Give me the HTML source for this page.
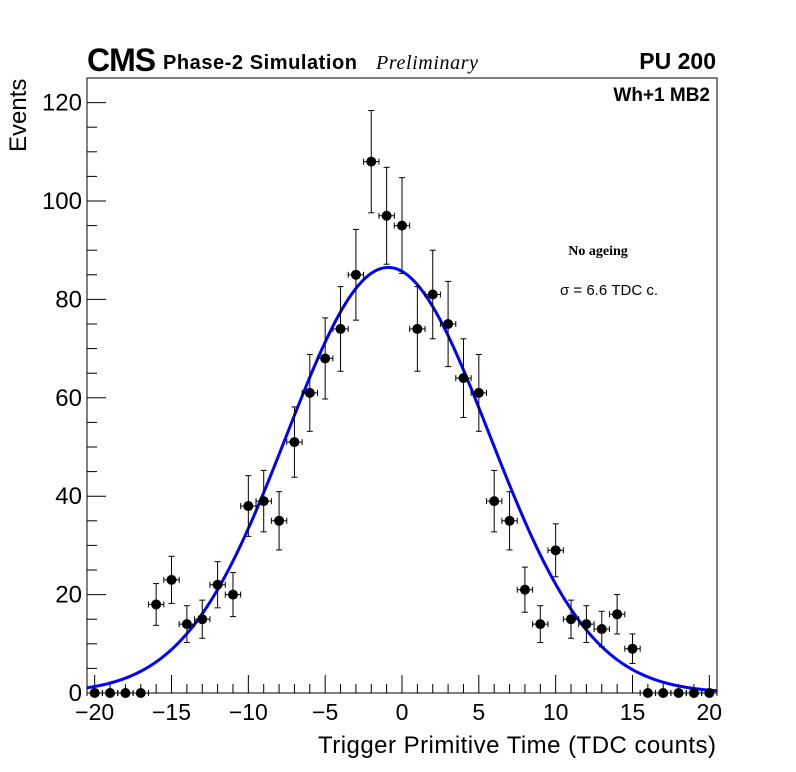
<!DOCTYPE html>
<html><head><meta charset="utf-8"><style>
html,body{margin:0;padding:0;background:#fff;}
svg{display:block;font-family:"Liberation Sans",sans-serif;}
</style></head><body>
<svg id="chart" width="796" height="772" xmlns="http://www.w3.org/2000/svg">
<rect x="0" y="0" width="796" height="772" fill="#fff"/>
<g id="axes"></g>
<g id="fit"></g>
<g id="points"></g>
<rect x="87" y="78" width="630" height="615" fill="none" stroke="#000" stroke-width="1"/>
<text x="87" y="71" font-size="32" font-weight="bold" style="letter-spacing:-1px">CMS</text>
<text x="163" y="69" font-size="20" font-weight="bold" textLength="194">Phase-2 Simulation</text>
<text x="376" y="69" font-size="20" font-style="italic" font-family="Liberation Serif,serif" textLength="102">Preliminary</text>
<text x="716" y="69" font-size="23" font-weight="bold" text-anchor="end">PU 200</text>
<text x="710" y="101" font-size="19" font-weight="bold" text-anchor="end">Wh+1 MB2</text>
<text x="598" y="255" font-size="14" font-weight="bold" font-family="Liberation Serif,serif" text-anchor="middle">No ageing</text>
<text x="609" y="295" font-size="15" text-anchor="middle">σ = 6.6 TDC c.</text>
<text x="716" y="753" font-size="24" text-anchor="end" textLength="398">Trigger Primitive Time (TDC counts)</text>
<text transform="translate(26,152) rotate(-90)" font-size="24">Events</text>
</svg>
<script>
const bins = [-20,-19,-18,-17,-16,-15,-14,-13,-12,-11,-10,-9,-8,-7,-6,-5,-4,-3,-2,-1,0,1,2,3,4,5,6,7,8,9,10,11,12,13,14,15,16,17,18,19,20];
const counts = [0,0,0,0,18,23,14,15,22,20,38,39,35,51,61,68,74,85,108,97,95,74,81,75,64,61,39,35,21,14,29,15,14,13,16,9,0,0,0,0,0];
const fitParams = [86.5, -0.9, 6.6]; // amplitude, mean, sigma
const xTicks = [-20,-15,-10,-5,0,5,10,15,20];
const xTickLabels = ["\u221220","\u221215","\u221210","\u22125","0","5","10","15","20"];
const yTicks = [0,20,40,60,80,100,120];
const yTickLabels = ["0","20","40","60","80","100","120"];

const NS="http://www.w3.org/2000/svg";
const L=87,R=717,T=78,B=693, XMIN=-20.5, XMAX=20.5, YMIN=0, YMAX=125;
const sx=v=>L+(v-XMIN)/(XMAX-XMIN)*(R-L);
const sy=v=>B-(v-YMIN)/(YMAX-YMIN)*(B-T);
function mk(tag,attrs,parent){const e=document.createElementNS(NS,tag);for(const k in attrs)e.setAttribute(k,attrs[k]);parent.appendChild(e);return e;}
const axes=document.getElementById('axes');
for(let v=-20;v<=20;v++){
  const major=v%5===0;
  const t=mk('line',{x1:sx(v),x2:sx(v),y1:B,y2:B-(major?18:9),stroke:'#000','stroke-width':1},axes);
  
  
}
xTicks.forEach((v,i)=>{
  const t=mk('text',{x:sx(v),y:B+27,'font-size':23,'text-anchor':'middle'},axes);
  t.textContent=xTickLabels[i];
  
  
});
for(let v=0;v<=125;v+=5){
  const major=v%20===0;
  const t=mk('line',{x1:L,x2:L+(major?19:10),y1:sy(v),y2:sy(v),stroke:'#000','stroke-width':1},axes);
  
  
}
yTicks.forEach((v,i)=>{
  const t=mk('text',{x:L-5,y:sy(v)+8,'font-size':24,'text-anchor':'end'},axes);
  t.textContent=yTickLabels[i];
  
  
});
const fit=document.getElementById('fit');
let d='';
for(let i=0;i<=200;i++){
  const x=XMIN+(XMAX-XMIN)*i/200;
  const y=fitParams[0]*Math.exp(-0.5*Math.pow((x-fitParams[1])/fitParams[2],2));
  d+=(i?'L':'M')+sx(x).toFixed(2)+','+sy(y).toFixed(2);
}
const fp=mk('path',{d:d,fill:'none',stroke:'#0000ff','stroke-width':3},fit);


const pts=document.getElementById('points');
bins.forEach((b,i)=>{
  const n=counts[i], cx=sx(b), cy=sy(n), e=Math.sqrt(n);
  const g=mk('g',{},pts);
  
  
  mk('line',{x1:sx(b-0.5),x2:sx(b+0.5),y1:cy,y2:cy,stroke:'#000','stroke-width':1},g);
  mk('line',{x1:sx(b-0.5),x2:sx(b-0.5),y1:cy-3,y2:cy+3,stroke:'#000','stroke-width':1},g);
  mk('line',{x1:sx(b+0.5),x2:sx(b+0.5),y1:cy-3,y2:cy+3,stroke:'#000','stroke-width':1},g);
  if(n>0){
    mk('line',{x1:cx,x2:cx,y1:sy(n+e),y2:Math.min(B,sy(n-e)),stroke:'#000','stroke-width':1},g);
    mk('line',{x1:cx-3,x2:cx+3,y1:sy(n+e),y2:sy(n+e),stroke:'#000','stroke-width':1},g);
    mk('line',{x1:cx-3,x2:cx+3,y1:sy(n-e),y2:sy(n-e),stroke:'#000','stroke-width':1},g);
  }
  mk('circle',{cx:cx,cy:cy,r:5,fill:'#000'},g);
});
</script>
</body></html>
